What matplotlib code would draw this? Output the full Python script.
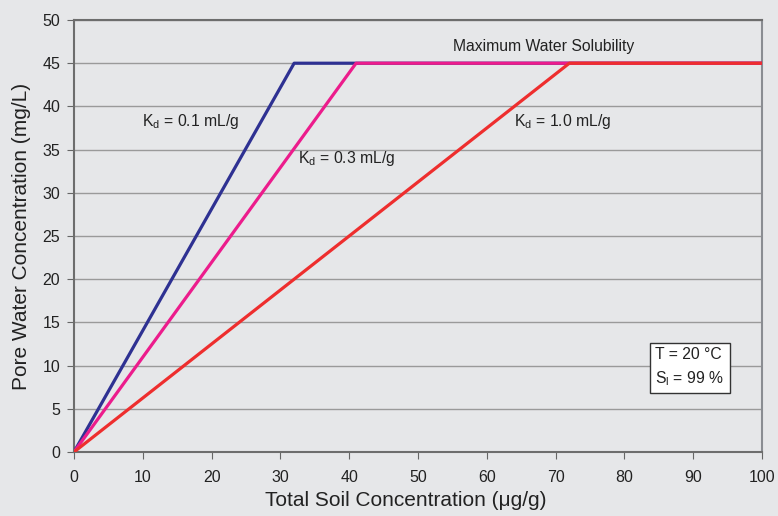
import matplotlib
matplotlib.use("Agg")
import matplotlib.pyplot as plt
import numpy as np

plt.rcParams['font.family'] = ['Liberation Sans', 'DejaVu Sans']
plt.rcParams['mathtext.fontset'] = 'custom'
plt.rcParams['mathtext.rm'] = 'Liberation Sans'

# total soil concentration where pore water hits solubility, and the cap
max_solubility = 45
series_names = ["0.1", "0.3", "1.0"]
x_break = [32, 41, 72]
x_end = 100
colors = ["#2e3192", "#ec1c8c", "#ee2e2e"]

bg = "#e6e7e9"
fig = plt.figure(figsize=(7.78, 5.16), dpi=100, facecolor=bg)
ax = fig.add_axes([0.0951, 0.124, 0.8843, 0.8372])
ax.set_facecolor(bg)

for xb, c in zip(x_break, colors):
    ax.plot([0, xb, x_end], [0, max_solubility, max_solubility], color=c, lw=2.3,
            solid_capstyle='butt', zorder=3)

ax.set_xlim(0, 100)
ax.set_ylim(0, 50)
ax.set_xticks(np.arange(0, 101, 10))
ax.set_yticks(np.arange(0, 51, 5))
ax.yaxis.grid(True, color="#9a9a9a", lw=1)
ax.set_axisbelow(True)
ax.tick_params(direction='out', length=5, color="#666666", labelsize=11.5,
               labelcolor="#222222", pad=5)
ax.tick_params(axis='x', pad=8)
for s in ax.spines.values():
    s.set_color("#6d6d6d")
    s.set_linewidth(1.5)
ax.spines['right'].set_color("#8a8d92")

ax.set_xlabel("Total Soil Concentration (μg/g)", fontsize=15, color="#222222", labelpad=4)
ax.xaxis.label.set_x(0.482)
ax.set_ylabel("Pore Water Concentration (mg/L)", fontsize=15, color="#222222", labelpad=8)

tc = "#222222"
fs = 11.3
ax.text(68.2, 46.9, "Maximum Water Solubility", ha='center', va='center', fontsize=fs, color=tc)
ax.text(16.9, 38.3, "K$_\\mathrm{d}$ = " + series_names[0] + " mL/g", ha='center', va='center',
        fontsize=fs, color=tc)
ax.text(32.6, 34.0, "K$_\\mathrm{d}$ = " + series_names[1] + " mL/g", ha='left', va='center',
        fontsize=fs, color=tc)
ax.text(63.9, 38.3, "K$_\\mathrm{d}$ = " + series_names[2] + " mL/g", ha='left', va='center',
        fontsize=fs, color=tc)
ax.text(84.5, 9.8, "T = 20 °C\nS$_\\mathrm{l}$ = 99 %", ha='left', va='center', fontsize=fs,
        color=tc, linespacing=1.5,
        bbox=dict(boxstyle='square,pad=0.35', facecolor='white', edgecolor='#333333', lw=1))

fig.savefig("out.png", dpi=100, facecolor=bg)
